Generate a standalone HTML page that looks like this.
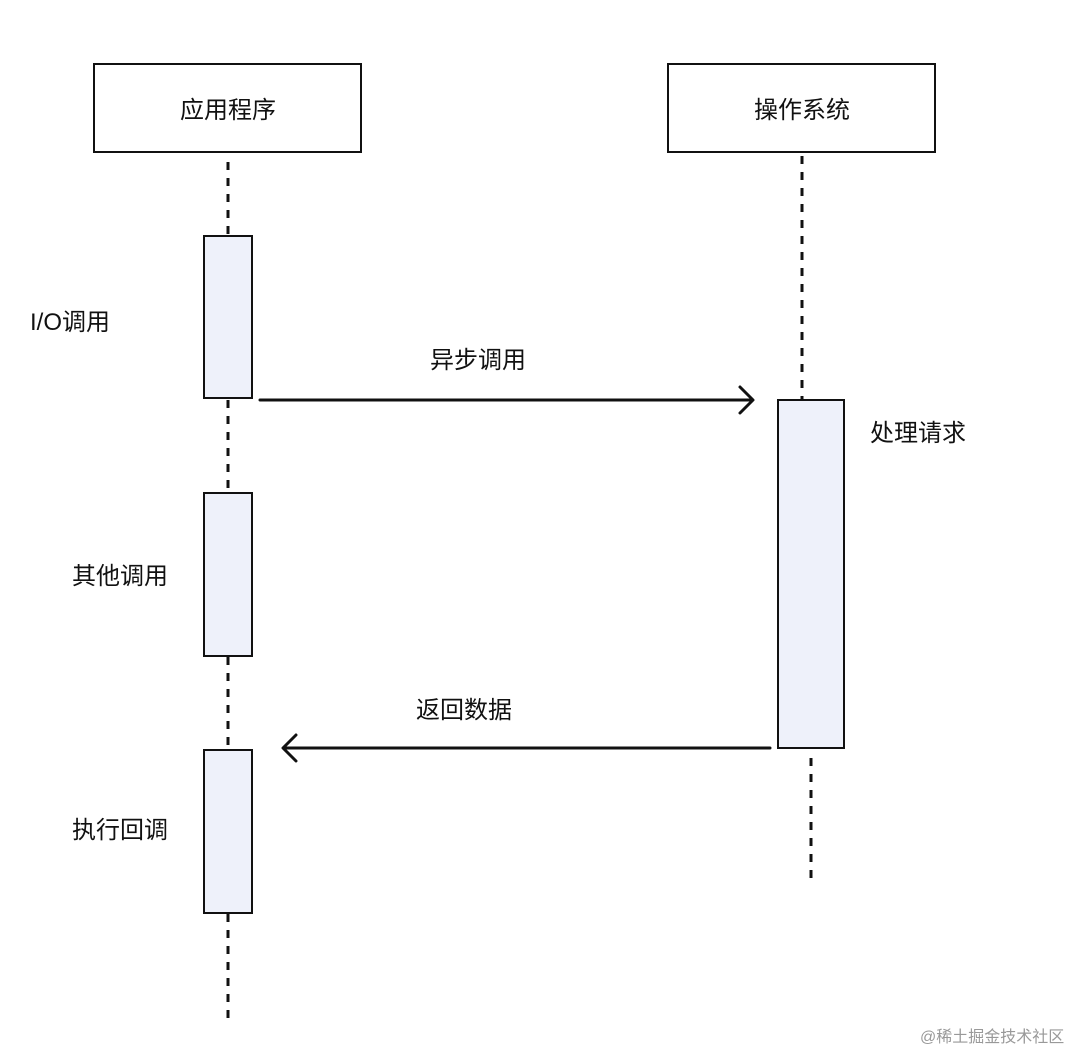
<!DOCTYPE html>
<html><head><meta charset="utf-8"><style>
html,body{margin:0;padding:0;background:#fff;}
svg{display:block;}
text{font-family:"Liberation Sans","Noto Sans CJK SC",sans-serif;font-size:24px;fill:#111;}
</style></head><body>
<svg width="1086" height="1052" viewBox="0 0 1086 1052" xmlns="http://www.w3.org/2000/svg">
<rect x="94" y="64" width="267" height="88" fill="#fff" stroke="#111" stroke-width="2"/>
<rect x="668" y="64" width="267" height="88" fill="#fff" stroke="#111" stroke-width="2"/>
<text x="228" y="118" text-anchor="middle">应用程序</text>
<text x="802" y="118" text-anchor="middle">操作系统</text>
<g stroke="#111" stroke-width="3" stroke-dasharray="8,8">
<line x1="228" y1="162" x2="228" y2="236"/>
<line x1="228" y1="400" x2="228" y2="493"/>
<line x1="228" y1="657" x2="228" y2="750"/>
<line x1="228" y1="914" x2="228" y2="1022"/>
<line x1="802" y1="156" x2="802" y2="400"/>
<line x1="811" y1="758" x2="811" y2="880"/>
</g>
<g fill="#eef1fa" stroke="#111" stroke-width="2">
<rect x="204" y="236" width="48" height="162"/>
<rect x="204" y="493" width="48" height="163"/>
<rect x="204" y="750" width="48" height="163"/>
<rect x="778" y="400" width="66" height="348"/>
</g>
<g stroke="#111" stroke-width="3" fill="none" stroke-linecap="round" stroke-linejoin="round">
<line x1="260" y1="400" x2="752" y2="400"/>
<polyline points="740,387 753,400 740,413"/>
<line x1="770" y1="748" x2="284" y2="748"/>
<polyline points="296,735 283,748 296,761"/>
</g>
<text x="30" y="330">I/O调用</text>
<text x="72" y="584">其他调用</text>
<text x="72" y="838">执行回调</text>
<text x="430" y="368">异步调用</text>
<text x="416" y="718">返回数据</text>
<text x="870" y="441">处理请求</text>
<text x="920" y="1042" style="font-size:16px;fill:#999;">@稀土掘金技术社区</text>
</svg>
</body></html>
